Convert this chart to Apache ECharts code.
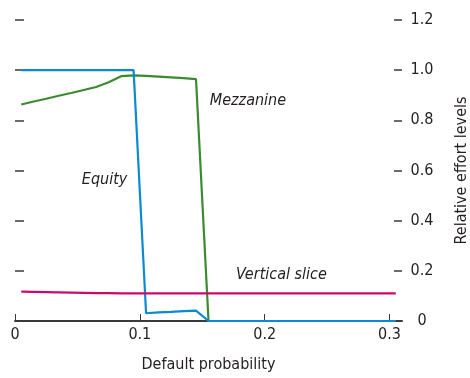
<!DOCTYPE html>
<html>
<head>
<meta charset="utf-8">
<script src="https://cdn.jsdelivr.net/npm/echarts@6/dist/echarts.min.js"></script>
<style>html,body{margin:0;padding:0;background:#fff}#c{width:470px;height:378px}</style>
</head>
<body>
<div id="c"></div>
<script>
const xValues = [0.005,0.015,0.025,0.035,0.045,0.055,0.065,0.075,0.085,0.095,0.105,0.115,0.125,0.135,0.145,0.155,0.165,0.175,0.185,0.195,0.205,0.215,0.225,0.235,0.245,0.255,0.265,0.275,0.285,0.295,0.305];
const equity = [1,1,1,1,1,1,1,1,1,1,0.031,0.034,0.036,0.039,0.041,0,0,0,0,0,0,0,0,0,0,0,0,0,0,0,0];
const mezzanine = [0.863,0.875,0.886,0.898,0.909,0.921,0.933,0.952,0.976,0.979,0.977,0.974,0.971,0.968,0.964,0,0,0,0,0,0,0,0,0,0,0,0,0,0,0,0];
const verticalSlice = [0.117,0.116,0.115,0.114,0.113,0.112,0.111,0.111,0.110,0.110,0.110,0.110,0.110,0.110,0.110,0.110,0.110,0.110,0.110,0.110,0.110,0.110,0.110,0.110,0.110,0.110,0.110,0.110,0.110,0.110,0.110];
const xTicks = [0,0.1,0.2,0.3];
const yTicks = [0,0.2,0.4,0.6,0.8,1.0,1.2];
const labels = [
  {name:'Mezzanine', coord:[0.156,0.877]},
  {name:'Equity', coord:[0.0535,0.562]},
  {name:'Vertical slice', coord:[0.177,0.183]}
];
const FONT = '"DejaVu Sans Condensed", "Liberation Sans Narrow", "Liberation Sans", sans-serif';
const TXT = '#231f20';
const pair = arr => xValues.map((x,i)=>[x,arr[i]]);
const chart = echarts.init(document.getElementById('c'), null, {renderer:'canvas'});
chart.setOption({
  animation:false,
  grid:{left:15,right:68,top:20,bottom:57,containLabel:false,outerBoundsMode:'none'},
  xAxis:{type:'value',min:0,max:0.31,
    name:'Default probability',nameLocation:'middle',nameGap:36,
    nameTextStyle:{fontFamily:FONT,fontSize:16,color:TXT},
    axisLine:{show:true,onZero:false,lineStyle:{color:'#3a3a3a',width:2}},
    axisTick:{show:true,inside:true,length:7,customValues:xTicks,lineStyle:{color:'#3a3a3a',width:1}},
    axisLabel:{customValues:xTicks,margin:6,fontFamily:FONT,fontSize:16,color:TXT,formatter:v=>v===0?'0':v.toFixed(1)},
    splitLine:{show:false}},
  yAxis:[
    {type:'value',position:'right',min:0,max:1.2,interval:0.2,
     name:'Relative effort levels',nameLocation:'middle',nameGap:52,nameRotate:90,
     nameTextStyle:{fontFamily:FONT,fontSize:16,color:TXT},
     axisLine:{show:false,onZero:false},
     axisTick:{show:true,inside:true,length:8,lineStyle:{color:'#3a3a3a',width:1.5}},
     axisLabel:{margin:20,align:'center',fontFamily:FONT,fontSize:16,color:TXT,formatter:v=>v===0?'0':v.toFixed(1)},
     splitLine:{show:false}},
    {type:'value',position:'left',min:0,max:1.2,interval:0.2,
     axisLine:{show:false,onZero:false},
     axisTick:{show:true,inside:true,length:9,lineStyle:{color:'#3a3a3a',width:1.5}},
     axisLabel:{show:false},splitLine:{show:false}}
  ],
  series:[
    {type:'line',name:'Mezzanine',data:pair(mezzanine),showSymbol:false,symbol:'none',
     lineStyle:{color:'#3b8a2f',width:2.2},
     markPoint:{symbol:'circle',symbolSize:0,silent:true,
       data:labels.map(l=>({coord:l.coord,name:l.name})),
       label:{show:true,position:[0,0],align:'left',verticalAlign:'middle',formatter:p=>p.name,
         fontFamily:FONT,fontStyle:'italic',fontSize:16,color:TXT}}},
    {type:'line',name:'Equity',data:pair(equity),showSymbol:false,symbol:'none',
     lineStyle:{color:'#0a8ad2',width:2.2}},
    {type:'line',name:'Vertical slice',data:pair(verticalSlice),showSymbol:false,symbol:'none',
     lineStyle:{color:'#cc0a6e',width:2.2}}
  ]
});
</script>
</body>
</html>
